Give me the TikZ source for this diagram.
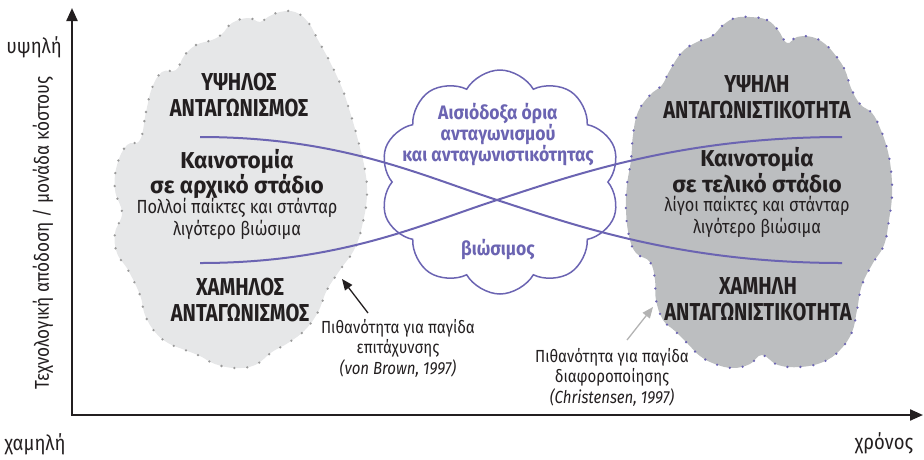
\documentclass[tikz,border=0pt]{standalone}
\usepackage{fontspec}
\setmainfont{Fira Sans}[FakeStretch=0.82]
\newfontfamily\fcaps{Fira Sans}[FakeStretch=0.82]
\newfontfamily\flow{Fira Sans}[FakeStretch=0.98]
\newfontfamily\fplain{Fira Sans}[FakeStretch=0.86]
\newfontfamily\fcloud{Fira Sans}[FakeStretch=0.9]
\newfontfamily\fannot{Fira Sans}[FakeStretch=0.86]
\newfontfamily\faxis{Fira Sans}[FakeStretch=0.88]
\usetikzlibrary{arrows.meta,shapes.symbols}
\definecolor{lgray}{HTML}{E6E7E8}
\definecolor{mgray}{HTML}{BCBEC0}
\definecolor{dotgray}{HTML}{9A9A9A}
\definecolor{purp}{HTML}{6B64B2}
\definecolor{agray}{HTML}{B3B3B3}
\definecolor{ink}{HTML}{231F20}
\begin{document}
\begin{tikzpicture}[x=1pt,y=-1pt,
  capsbold/.style={text=ink, align=center, font=\fcaps\fontsize{24.5}{26}\selectfont\bfseries},
  lowbold/.style={text=ink, align=center, font=\flow\fontsize{23}{23.5}\selectfont\bfseries},
  plain/.style={text=ink, align=center, font=\fplain\fontsize{19}{21.5}\selectfont},
  cloudtxt/.style={text=purp, align=center, font=\fcloud\fontsize{19.5}{21}\selectfont\bfseries},
  annot/.style={text=ink, align=center, font=\fannot\fontsize{17.5}{20.5}\selectfont},
  axislabel/.style={text=ink, font=\faxis\fontsize{21}{22}\selectfont},
  axisline/.style={draw=ink, line width=2.2pt, -{Triangle[length=13pt,width=11pt]}},
  blobdots/.style={line width=2.6pt, line cap=round, dash pattern=on 0pt off 13pt},
  purpline/.style={draw=purp, line width=2pt},
  cloudshape/.style={cloud, draw=purp, line width=1.5pt, cloud puffs=10, cloud puff arc=120,
     cloud ignores aspect, minimum width=240pt, minimum height=224pt, inner sep=0pt}
]
\useasboundingbox (0,0) rectangle (924,459);

% blobs
\path[fill=lgray, draw=dotgray, blobdots] plot[smooth cycle, tension=0.7] coordinates {
 (140,140) (146,112) (152,88) (162,72) (176,70) (184,56) (196,45) (212,40) (222,34)
 (232,23) (248,18) (260,22) (268,17) (280,12) (295,12) (308,22) (318,40) (330,62)
 (342,88) (350,112) (358,140) (365,170) (367,195) (363,222) (355,248) (340,270)
 (327,290) (318,312) (305,330) (288,343) (272,352) (255,365) (235,368) (215,364)
 (200,356) (185,350) (168,343) (155,332) (145,315) (140,295) (128,270) (117,253)
 (115,233) (122,213) (115,190) (117,165) (127,145)};
\path[fill=mgray, draw=purp, blobdots] plot[smooth cycle, tension=0.7] coordinates {
 (750,17) (767,20) (778,30) (787,43) (797,37) (812,37) (825,44) (836,56) (845,70)
 (851,88) (860,104) (872,113) (880,128) (887,148) (891,170) (892,195) (889,220)
 (884,245) (873,263) (862,285) (857,310) (852,332) (840,350) (823,362) (800,367)
 (778,365) (762,355) (750,364) (733,368) (715,364) (700,356) (688,344) (675,331)
 (663,320) (656,300) (655,280) (650,262) (636,253) (629,236) (626,210) (627,185)
 (631,160) (633,135) (638,112) (650,95) (662,85) (670,70) (682,52) (697,42)
 (712,36) (723,25) (735,18)};

% cloud
\node[cloudshape] (cl) at (500,182) {};

% axes
\coordinate (origin) at (72,415);
\coordinate (ytip) at (72,8);
\coordinate (xtip) at (923,415);
\draw[axisline] (origin) -- (ytip);
\draw[axisline] ([xshift=-1.1pt]origin) -- (xtip);

% curves
\coordinate (d0) at (200,137);
\coordinate (d1) at (842,263);
\coordinate (u0) at (200,263);
\coordinate (u1) at (842,137);
\coordinate (cross) at (497,200);
\draw[purpline] (d0) .. controls (340,137) and (420,175) .. (cross)
   .. controls (574,225) and (680,263) .. (d1);
\draw[purpline] (u0) .. controls (340,263) and (420,225) .. (cross)
   .. controls (574,175) and (680,137) .. (u1);

% left blob texts
\node[capsbold] (lt) at (239,95) {ΥΨΗΛΟΣ\\ΑΝΤΑΓΩΝΙΣΜΟΣ};
\node[lowbold] (lm) at (237,174) {Καινοτομία\\σε αρχικό στάδιο};
\node[plain] (lp) at (237,219) {Πολλοί παίκτες και στάνταρ\\λιγότερο βιώσιμα};
\node[capsbold] (lb) at (240,300) {ΧΑΜΗΛΟΣ\\ΑΝΤΑΓΩΝΙΣΜΟΣ};

% right blob texts
\node[capsbold] (rt) at (757,97) {ΥΨΗΛΗ\\ΑΝΤΑΓΩΝΙΣΤΙΚΟΤΗΤΑ};
\node[lowbold] (rm) at (757,170) {Καινοτομία\\σε τελικό στάδιο};
\node[plain] (rp) at (757,217) {λίγοι παίκτες και στάνταρ\\λιγότερο βιώσιμα};
\node[capsbold] (rb) at (758,299) {ΧΑΜΗΛΗ\\ΑΝΤΑΓΩΝΙΣΤΙΚΟΤΗΤΑ};

% cloud texts
\node[cloudtxt] (ct) at (498,135) {Αισιόδοξα όρια\\ανταγωνισμού\\και ανταγωνιστικότητας};
\node[cloudtxt] (cb) at (498,250) {βιώσιμος};

% annotations
\node[annot] (an1) at (398,348) {Πιθανότητα για παγίδα\\επιτάχυνσης\\\textit{(von Brown, 1997)}};
\coordinate (a1tail) at (368,313);
\coordinate (a1tip) at (342,279);
\draw[draw=ink, line width=1.3pt, -{Triangle[length=11pt,width=9pt]}] (a1tail) -- (a1tip);
\node[annot] (an2) at (612,377) {Πιθανότητα για παγίδα\\διαφοροποίησης\\\textit{(Christensen, 1997)}};
\coordinate (a2tail) at (627,340);
\coordinate (a2tip) at (653,307);
\draw[draw=agray, line width=1.3pt, -{Triangle[length=11pt,width=9pt]}] (a2tail) -- (a2tip);

% axis labels
\node[axislabel] (yhi) at (34,47) {υψηλή};
\node[axislabel] (ylo) at (35,444) {χαμηλή};
\node[axislabel] (xl) at (884,443) {χρόνος};
\node[axislabel, font=\fannot\fontsize{20}{22}\selectfont, rotate=90] (yl) at (43,233) {Τεχνολογική απόδοση / μονάδα κόστους};
\end{tikzpicture}
\end{document}
